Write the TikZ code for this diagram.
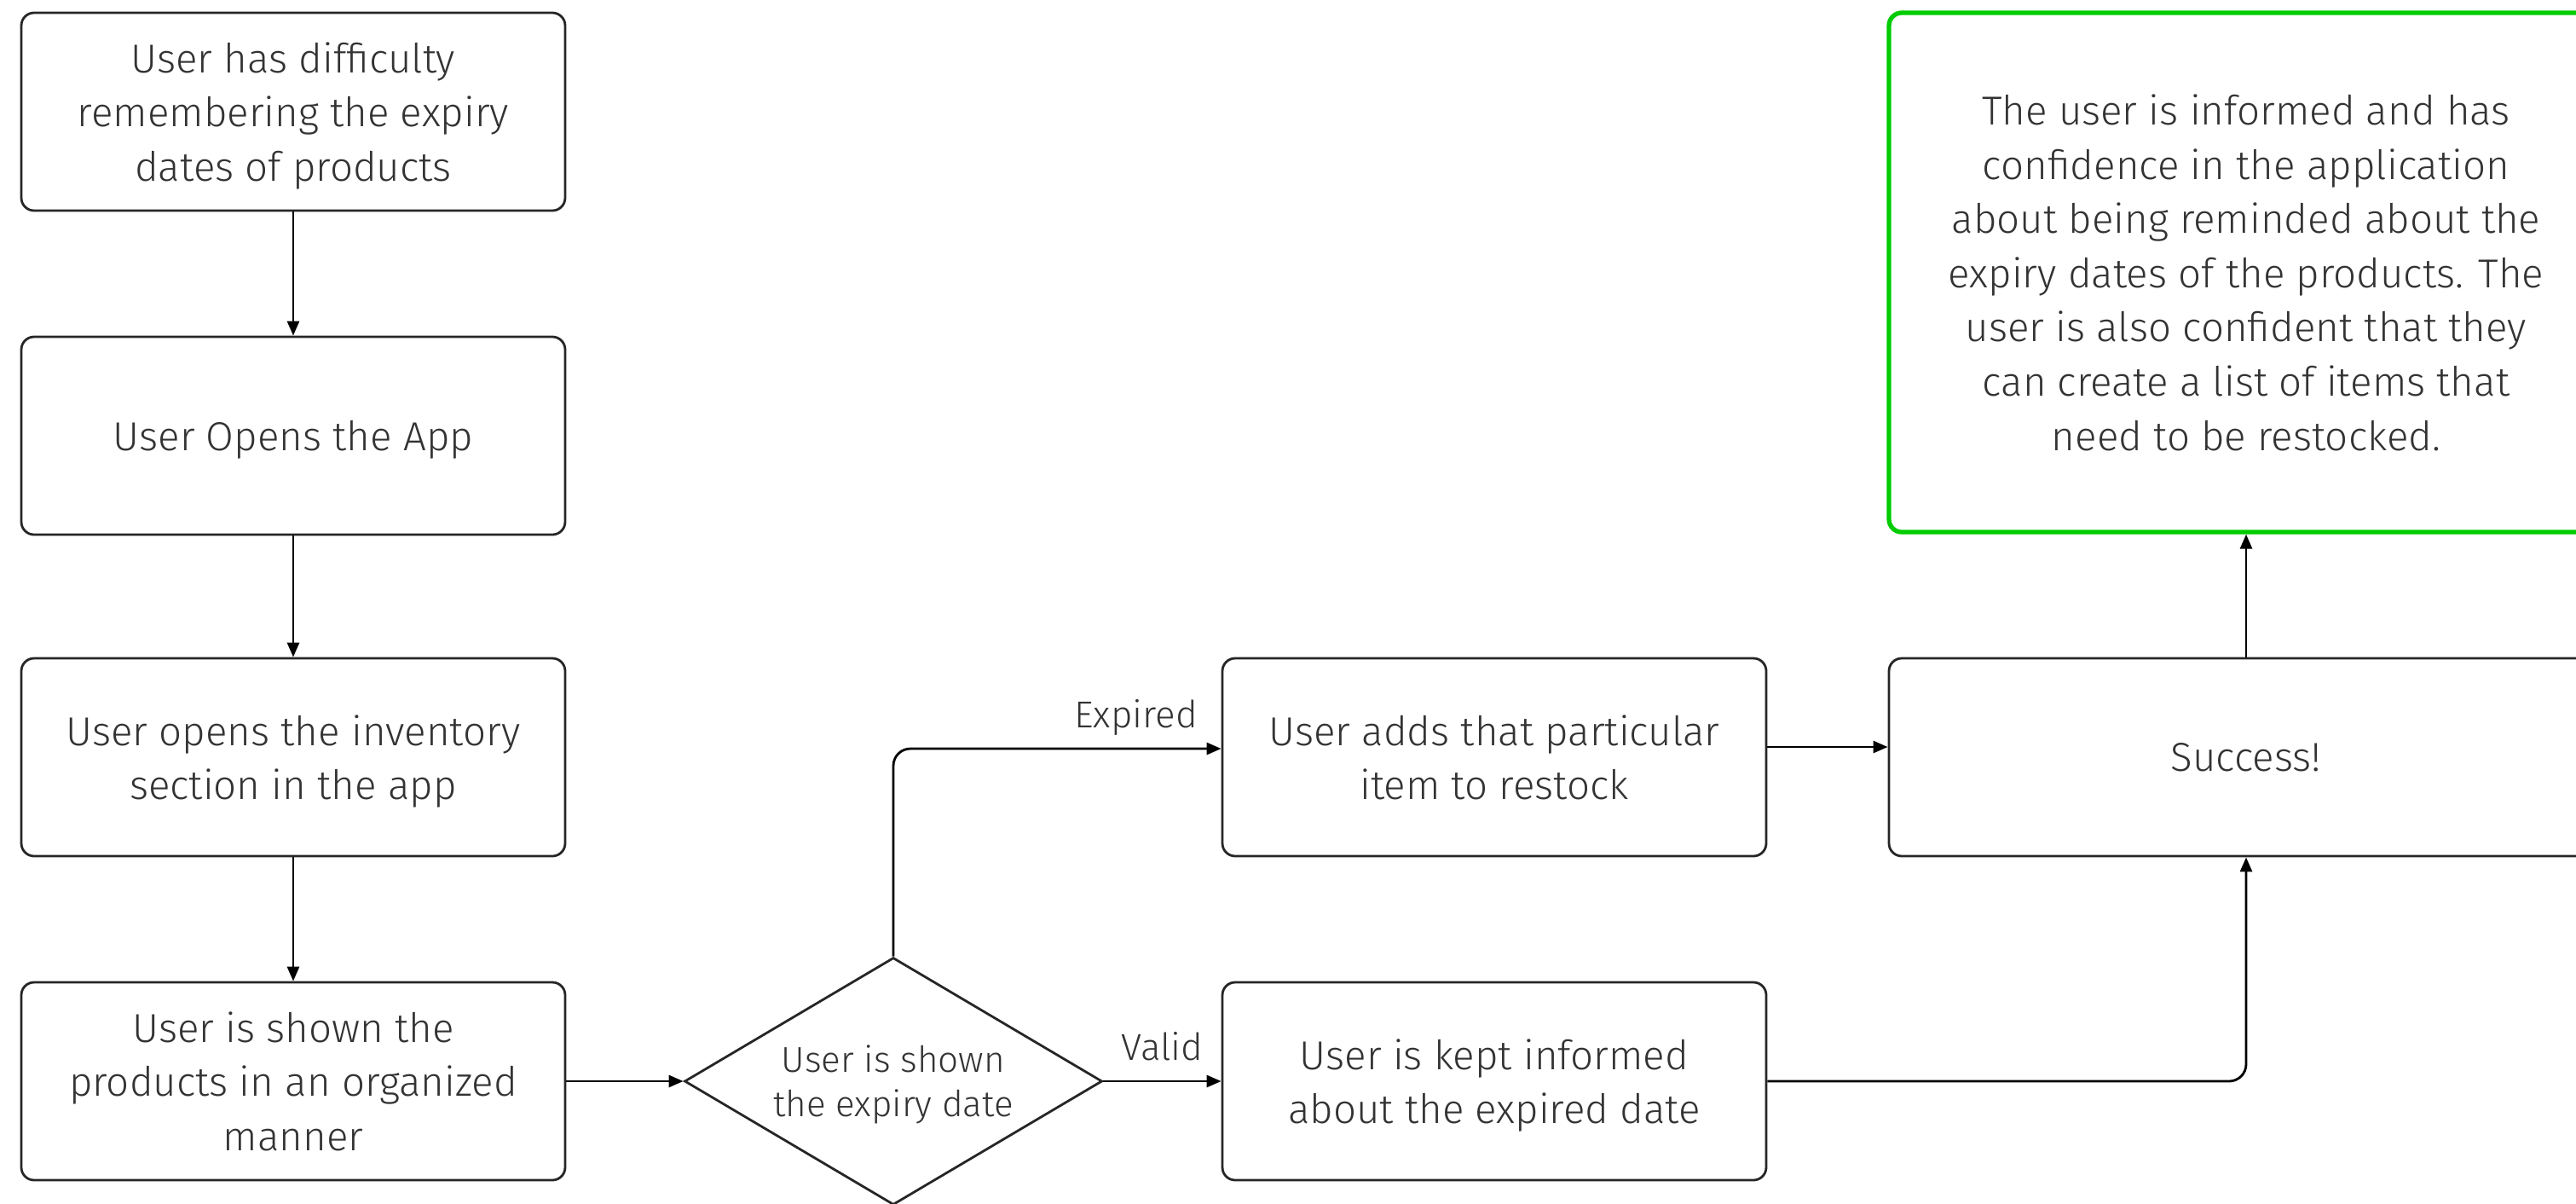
\documentclass[tikz,border=0pt]{standalone}
\usepackage{fontspec}
\setmainfont{Fira Sans}[UprightFont=* Light]
\usetikzlibrary{shapes.geometric,arrows.meta}

\definecolor{inkgray}{HTML}{333333}
\definecolor{goalgreen}{HTML}{00CC00}

\tikzset{
    stepbox/.style={draw=black!85, line width=0.8pt, rounded corners=0.15cm,
        minimum width=6.38cm, minimum height=2.32cm, align=center,
        text=inkgray, font=\fontsize{13.5}{18.1}\selectfont, text depth=0pt},
    decision/.style={draw=black!85, line width=0.8pt, shape=diamond, aspect=1.69,
        inner sep=0pt, minimum width=4.9cm, minimum height=2.9cm, align=center,
        text=inkgray, font=\fontsize{12}{14.8}\selectfont, text depth=0pt},
    goalbox/.style={stepbox, draw=goalgreen, line width=1.5pt,
        minimum width=8.38cm, minimum height=6.09cm},
    flow/.style={line width=0.8pt, rounded corners=0.2cm,
        -{Triangle[length=0.17cm,width=0.14cm]}},
    edgelabel/.style={text=inkgray, font=\fontsize{12.5}{14}\selectfont,
        anchor=base, yshift=0.25cm}
}

\begin{document}
\begin{tikzpicture}
    \useasboundingbox (0,0) rectangle (30.22,-14.11);
    %left column
    \node[stepbox] (problem) at (3.44,-1.31) {User has difficulty\\remembering the expiry\\dates of products};
    \node[stepbox] (open) at (3.44,-5.11) {User Opens the App};
    \node[stepbox] (inventory) at (3.44,-8.88) {User opens the inventory\\section in the app};
    \node[stepbox] (shown) at (3.44,-12.68) {User is shown the\\products in an organized\\manner};
    %check of the date
    \node[decision] (expiry) at (10.48,-12.68) {User is shown\\the expiry date};
    \node[stepbox] (restock) at (17.53,-8.88) {User adds that particular\\item to restock};
    \node[stepbox] (informed) at (17.53,-12.68) {User is kept informed\\about the expired date};
    %outcome
    \node[stepbox, minimum width=8.38cm] (success) at (26.35,-8.88) {Success!};
    \node[goalbox] (outcome) at (26.35,-3.195) {The user is informed and has\\confidence in the application\\about being reminded about the\\expiry dates of the products. The\\user is also confident that they\\can create a list of items that\\need to be restocked.};

    \draw[flow] (problem) -- (open);
    \draw[flow] (open) -- (inventory);
    \draw[flow] (inventory) -- (shown);
    \draw[flow] (shown) -- (expiry);
    \draw[flow] (expiry.north) |- node[edgelabel, pos=0.87] {Expired} ([yshift=0.1cm]restock.west);
    \draw[flow] (expiry.east) -- node[edgelabel] {Valid} (informed.west);
    \draw[flow] ([yshift=0.12cm]restock.east) -- ([yshift=0.12cm]success.west);
    \draw[flow] (informed.east) -| (success.south);
    \draw[flow] (success) -- (outcome);
\end{tikzpicture}
\end{document}
